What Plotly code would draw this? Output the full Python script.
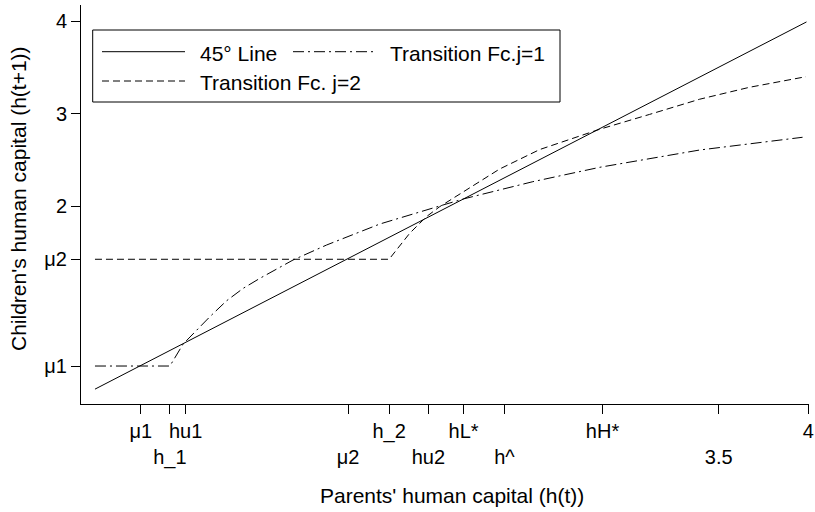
import plotly.graph_objects as go

# ---- data ----
line45_x = [0.02, 3.99]
line45_y = [0.02, 3.99]

j1_x = [0.02, 0.438, 0.512, 0.605, 0.661, 0.754, 0.847, 0.940, 1.125, 1.312,
        1.497, 1.609, 1.943, 2.077, 2.276, 2.463, 2.835, 3.393, 3.968]
j1_y = [0.27, 0.27, 0.508, 0.695, 0.803, 0.975, 1.110, 1.218, 1.416, 1.578,
        1.722, 1.805, 2.000, 2.077, 2.173, 2.263, 2.418, 2.605, 2.743]

j2_x = [0.02, 1.661, 1.776, 1.869, 1.943, 2.092, 2.278, 2.501, 2.835, 3.114,
        3.393, 3.671, 3.987]
j2_y = [1.424, 1.424, 1.705, 1.884, 1.992, 2.173, 2.400, 2.610, 2.829, 2.990,
        3.154, 3.283, 3.398]

x_tick_vals = [0.276, 0.438, 0.526, 1.432, 1.661, 1.880, 2.077, 2.305, 2.852, 3.5, 4.0]
x_tick_text = ["μ1", "<br>h_1", "hu1", "<br>μ2", "h_2", "<br>hu2", "hL*", "<br>h^",
               "hH*", "<br>3.5", "4"]
y_tick_vals = [0.27, 1.424, 2, 3, 4]
y_tick_text = ["μ1", "μ2", "2", "3", "4"]

legend_labels = ["45° Line", "Transition Fc.j=1", "Transition Fc. j=2"]

# ---- layout geometry ----
W, H = 815, 512
L, R, T, B = 81, 6, 5, 108
PW, PH = W - L - R, H - T - B


def px(x):
    return (x - L) / PW


def py(y):
    return (H - B - y) / PH


FONT = "Liberation Sans, Arial, sans-serif"
DASH_J1 = "11px,4px,2px,4px"
DASH_J2 = "7px,4px"

fig = go.Figure()
fig.add_trace(go.Scatter(x=line45_x, y=line45_y, mode="lines", name=legend_labels[0],
                         line=dict(color="black", width=1), showlegend=False))
fig.add_trace(go.Scatter(x=j1_x, y=j1_y, mode="lines", name=legend_labels[1],
                         line=dict(color="black", width=1, dash=DASH_J1), showlegend=False))
fig.add_trace(go.Scatter(x=j2_x, y=j2_y, mode="lines", name=legend_labels[2],
                         line=dict(color="black", width=1, dash=DASH_J2), showlegend=False))

axis_common = dict(showline=True, linecolor="black", linewidth=1, ticks="outside",
                   ticklen=9, tickcolor="black", tickwidth=1, showgrid=False,
                   zeroline=False, automargin=False, tickangle=0,
                   tickfont=dict(family=FONT, size=20, color="black"))

fig.update_layout(
    width=W, height=H,
    margin=dict(l=L, r=R, t=T, b=B),
    plot_bgcolor="white", paper_bgcolor="white",
    xaxis=dict(range=[-0.058, 4.004], tickmode="array", tickvals=x_tick_vals,
               ticktext=x_tick_text, ticklabeloverflow="allow", **axis_common),
    yaxis=dict(range=[-0.1405, 4.173], tickmode="array", tickvals=y_tick_vals,
               ticktext=y_tick_text, ticklabelstandoff=0, **axis_common),
    showlegend=False,
)

# axis titles
fig.add_annotation(text="Parents' human capital (h(t))", xref="paper", yref="paper",
                   x=px(451.7), y=py(495), xanchor="center", yanchor="middle",
                   showarrow=False, font=dict(family=FONT, size=21, color="black"))
fig.add_annotation(text="Children's human capital (h(t+1))", xref="paper", yref="paper",
                   x=px(18), y=py(199), xanchor="center", yanchor="middle", textangle=-90,
                   showarrow=False, font=dict(family=FONT, size=21, color="black"))

# legend box
fig.add_shape(type="rect", xref="paper", yref="paper", x0=px(92.7), x1=px(560),
              y0=py(102), y1=py(30), line=dict(color="black", width=1),
              fillcolor="white", layer="above")
legend_items = [
    (102, 185, 51.7, "solid", 198, 53.3, legend_labels[0]),
    (293, 377, 51.7, DASH_J1, 388, 53.3, legend_labels[1]),
    (102, 185, 81.0, DASH_J2, 198, 82.7, legend_labels[2]),
]
for x0, x1, ly, dash, tx, ty, label in legend_items:
    fig.add_shape(type="line", xref="paper", yref="paper", x0=px(x0), x1=px(x1),
                  y0=py(ly), y1=py(ly), line=dict(color="black", width=1, dash=dash),
                  layer="above")
    fig.add_annotation(text=label, xref="paper", yref="paper", x=px(tx), y=py(ty),
                       xanchor="left", yanchor="middle", showarrow=False,
                       font=dict(family=FONT, size=21, color="black"))

fig.write_html("out.html", config={"displayModeBar": False},
               post_script="document.body.style.margin='0';document.body.style.overflow='hidden';")
